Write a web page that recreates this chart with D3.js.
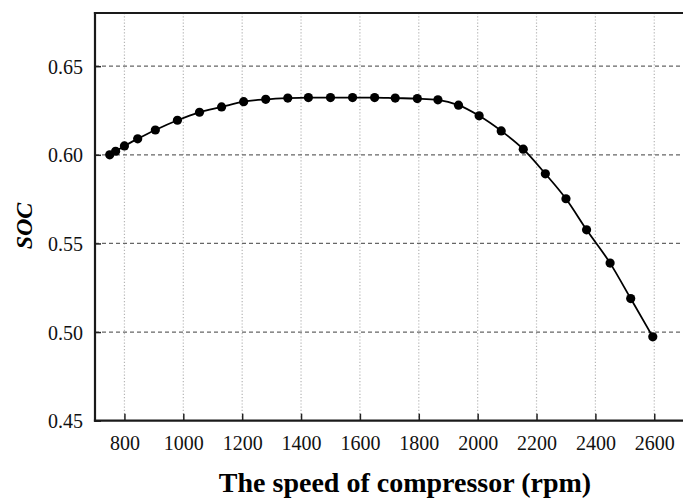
<!DOCTYPE html>
<html>
<head>
<meta charset="utf-8">
<script src="https://cdn.jsdelivr.net/npm/d3@7"></script>
<style>
  body { margin: 0; background: #fff; }
  svg { display: block; }
</style>
</head>
<body>
<svg id="chart" width="683" height="502"></svg>
<script>
// compressor speed (rpm) and state of charge
const speed = [750, 770, 800, 845, 905, 980, 1055, 1130, 1205, 1280, 1355, 1425, 1500, 1575,
               1650, 1720, 1795, 1865, 1935, 2005, 2080, 2155, 2230, 2300, 2370, 2450, 2520, 2595]
const soc = [0.600, 0.602, 0.605, 0.609, 0.614, 0.6195, 0.624, 0.627, 0.630, 0.6313, 0.632, 0.6323, 0.6323, 0.6323,
             0.6323, 0.632, 0.6317, 0.631, 0.628, 0.622, 0.6135, 0.6032, 0.5893, 0.5752, 0.5577, 0.5389, 0.5189, 0.4973]
const xTicks = [800, 1000, 1200, 1400, 1600, 1800, 2000, 2200, 2400, 2600]
const yTicks = [0.45, 0.50, 0.55, 0.60, 0.65]

const serif = "Liberation Serif, Times New Roman, serif"
const svg = d3.select("#chart")
const margin = { top: 13, left: 95, bottom: 81.3 }
const plotRight = 683.7

let x = d3.scaleLinear().domain([700, 2700]).range([margin.left, plotRight])
let y = d3.scaleLinear().domain([0.45, 0.68]).range([502 - margin.bottom, margin.top])

// vertical dotted grid
svg.append("g").selectAll("line")
    .data(xTicks)
    .enter().append("line")
    .attr("x1", d => x(d)).attr("x2", d => x(d))
    .attr("y1", y(0.68)).attr("y2", y(0.45))
    .attr("stroke", "#b5b5b5")
    .attr("stroke-width", 1.2)
    .attr("stroke-dasharray", "1.2,2")

// horizontal dashed grid
svg.append("g").selectAll("line")
    .data(yTicks.filter(d => d > 0.45))
    .enter().append("line")
    .attr("x1", x(700)).attr("x2", plotRight)
    .attr("y1", d => y(d)).attr("y2", d => y(d))
    .attr("stroke", "#666")
    .attr("stroke-width", 1.2)
    .attr("stroke-dasharray", "4,3")

// axes, ticks point inward
let xAxis = svg.append("g")
    .attr("transform", "translate(0," + y(0.45) + ")")
    .call(d3.axisBottom(x).tickValues(xTicks).tickSize(-7).tickPadding(15).tickFormat(d3.format("d")))
    .attr("font-family", serif)
    .attr("font-size", 20)
xAxis.select(".domain").remove()
xAxis.selectAll(".tick line").attr("stroke", "#222").attr("stroke-width", 1.5)

let yAxis = svg.append("g")
    .attr("transform", "translate(" + x(700) + ",0)")
    .call(d3.axisLeft(y).tickValues(yTicks).tickSize(-6).tickPadding(12).tickFormat(d3.format(".2f")))
    .attr("font-family", serif)
    .attr("font-size", 20)
yAxis.select(".domain").remove()
yAxis.selectAll(".tick line").attr("stroke", "#222").attr("stroke-width", 1.5)

xAxis.selectAll("text").attr("fill", "#111")
yAxis.selectAll("text").attr("fill", "#111").attr("dy", "0.35em")

// frame: left, bottom, top
const frame = [
    [x(700), y(0.68), x(700), y(0.45)],
    [x(700), y(0.45), plotRight, y(0.45)],
    [x(700), y(0.68), plotRight, y(0.68)]
]
svg.append("g").selectAll("line")
    .data(frame)
    .enter().append("line")
    .attr("x1", d => d[0]).attr("y1", d => d[1])
    .attr("x2", d => d[2]).attr("y2", d => d[3])
    .attr("stroke", "#1a1a1a")
    .attr("stroke-width", 2.2)
    .attr("stroke-linecap", "square")

// curve and markers
let pts = speed.map((s, i) => [s, soc[i]])
let line = d3.line().x(d => x(d[0])).y(d => y(d[1])).curve(d3.curveMonotoneX)

svg.append("path")
    .datum(pts)
    .attr("d", line)
    .attr("fill", "none")
    .attr("stroke", "#000")
    .attr("stroke-width", 1.8)

svg.append("g").selectAll("circle")
    .data(pts)
    .enter().append("circle")
    .attr("cx", d => x(d[0]))
    .attr("cy", d => y(d[1]))
    .attr("r", 4.6)
    .attr("fill", "#000")

// axis titles
svg.append("text")
    .attr("x", 405)
    .attr("y", 492)
    .attr("text-anchor", "middle")
    .attr("font-family", serif)
    .attr("font-weight", "bold")
    .attr("font-size", 28)
    .attr("fill", "#000")
    .text("The speed of compressor (rpm)")

svg.append("text")
    .attr("transform", "translate(32,226) rotate(-90)")
    .attr("text-anchor", "middle")
    .attr("font-family", serif)
    .attr("font-weight", "bold")
    .attr("font-style", "italic")
    .attr("font-size", 24)
    .attr("fill", "#000")
    .text("SOC")
</script>
</body>
</html>
